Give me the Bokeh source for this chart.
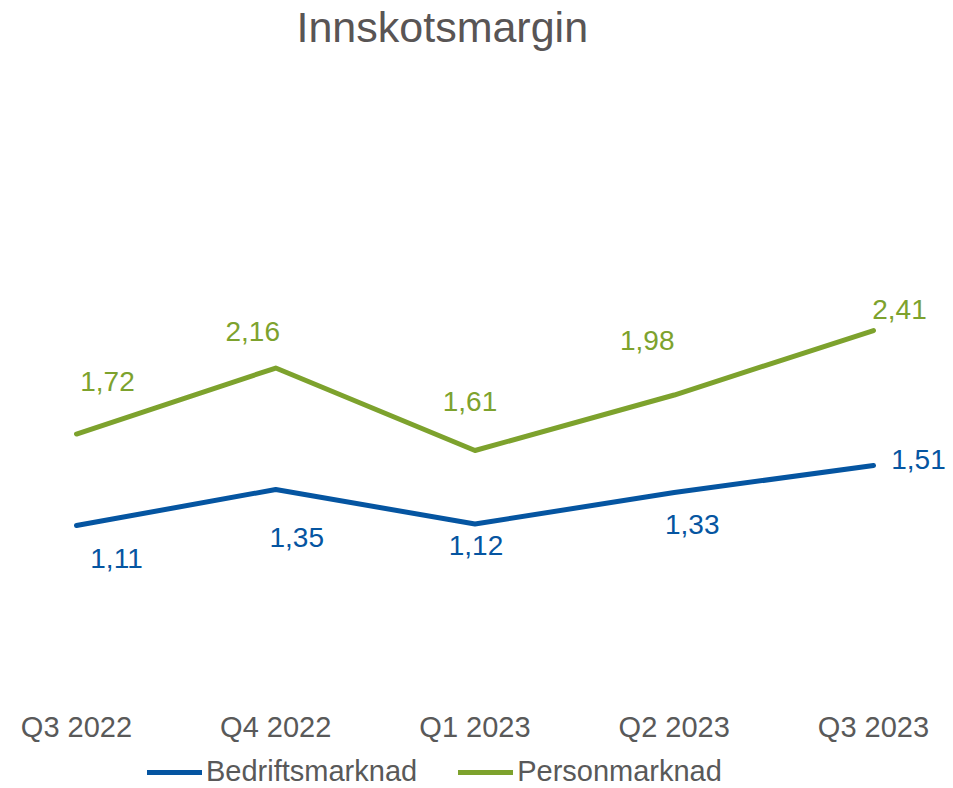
from bokeh.plotting import figure
from bokeh.models import FixedTicker, Legend, LegendItem, ColumnDataSource, Range1d
from bokeh.core.properties import value
from bokeh.embed import file_html
from bokeh.resources import INLINE

# ---- data ----
categories = ["Q3 2022", "Q4 2022", "Q1 2023", "Q2 2023", "Q3 2023"]
bedrift = [1.11, 1.35, 1.12, 1.33, 1.51]
person = [1.72, 2.16, 1.61, 1.98, 2.41]
series_names = ["Bedriftsmarknad", "Personmarknad"]
title_text = "Innskotsmargin"

# ---- style ----
BLUE = "#0555A1"
GREEN = "#7DA22D"
GREY = "#595959"
FONT = "Liberation Sans"
bedrift_dx = [40, 21, 1, 18, 45]
bedrift_dy = [33, 48, 21, 32, -6]
person_dx = [31, -23, -5, -27, 26]
person_dy = [-53, -37, -49, -55, -21]

xs = list(range(len(categories)))

def fmt(v):
    return f"{v:.2f}".replace(".", ",")

src_b = ColumnDataSource(dict(x=xs, y=bedrift, lab=[fmt(v) for v in bedrift],
                              dx=bedrift_dx, dy=bedrift_dy))
src_p = ColumnDataSource(dict(x=xs, y=person, lab=[fmt(v) for v in person],
                              dx=person_dx, dy=person_dy))

p = figure(width=953, height=788, output_backend="svg", toolbar_location=None,
           x_axis_location="above", y_axis_location=None,
           x_range=Range1d(-0.3814, 4.4015), y_range=Range1d(-0.6433, 4.2767),
           min_border_left=0, min_border_right=0, min_border_top=0, min_border_bottom=0)

p.title.text = title_text
p.title.align = "left"
p.title.offset = 296
p.title.standoff = 0
p.title.text_font = FONT
p.title.text_font_size = "43px"
p.title.text_font_style = "normal"
p.title.text_color = "#595555"

r_b = p.line("x", "y", source=src_b, line_color=BLUE, line_width=5, line_cap="round", line_join="round")
r_p = p.line("x", "y", source=src_p, line_color=GREEN, line_width=5, line_cap="round", line_join="round")

p.text("x", "y", text="lab", source=src_b, x_offset="dx", y_offset="dy",
       text_align="center", text_baseline="middle", text_color=BLUE,
       text_font=value(FONT), text_font_size="28px")
p.text("x", "y", text="lab", source=src_p, x_offset="dx", y_offset="dy",
       text_align="center", text_baseline="middle", text_color=GREEN,
       text_font=value(FONT), text_font_size="28px")

xa = p.xaxis[0]
xa.fixed_location = -0.3633
xa.ticker = FixedTicker(ticks=xs)
xa.major_label_overrides = {i: c for i, c in zip(xs, categories)}
xa.axis_line_color = None
xa.major_tick_line_color = None
xa.minor_tick_line_color = None
xa.major_tick_out = 0
xa.major_tick_in = 0
xa.major_label_standoff = 4
xa.major_label_text_font = FONT
xa.major_label_text_font_size = "29px"
xa.major_label_text_color = GREY
p.xgrid.visible = False
p.ygrid.visible = False
p.outline_line_color = None

legend = Legend(items=[LegendItem(label=series_names[0], renderers=[r_b]),
                       LegendItem(label=series_names[1], renderers=[r_p])],
                orientation="horizontal", glyph_width=55, label_standoff=4, spacing=41,
                padding=0, margin=0, border_line_color=None, background_fill_alpha=0,
                label_text_font=FONT, label_text_font_size="29px", label_text_color=GREY,
                location=(147, 0))
p.add_layout(legend, "center")

open("out.html", "w").write(file_html(p, INLINE))
